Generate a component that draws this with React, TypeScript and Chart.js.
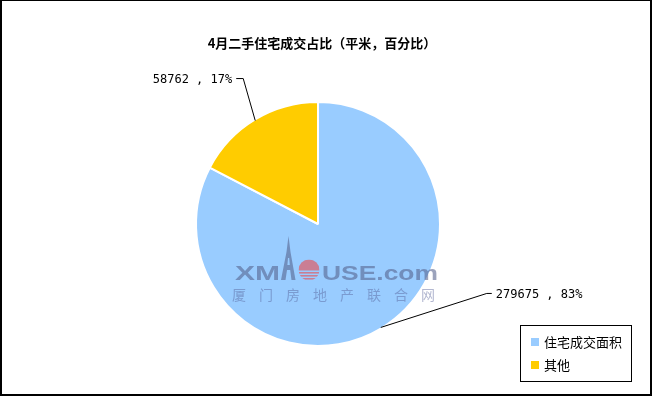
import { useEffect, useRef } from "react";
import { Chart, ArcElement, PieController } from "chart.js";

Chart.register(ArcElement, PieController);

// Chart content
const titleText = "4月二手住宅成交占比（平米，百分比）";
const categories = ["住宅成交面积", "其他"];
const areaValues = [279675, 58762];
const sliceColors = ["#99CCFF", "#FFCC00"];

// Leader-line elbows, relative to where each slice's mid-angle meets the rim
const leaderOffsets = [
  [106, -34],
  [-12, -42],
];

const W = 652;
const H = 396;

function drawStretched(
  ctx: CanvasRenderingContext2D,
  text: string,
  x: number,
  baseline: number,
  width: number
) {
  const natural = ctx.measureText(text).width;
  ctx.save();
  ctx.translate(x, baseline);
  ctx.scale(width / natural, 1);
  ctx.textAlign = "left";
  ctx.textBaseline = "alphabetic";
  ctx.fillText(text, 0, 0);
  ctx.restore();
}

// Site watermark laid over the pie
const watermarkPlugin = {
  id: "watermark",
  afterDatasetsDraw(chart: Chart) {
    const ctx = chart.ctx;
    ctx.save();
    const ink = "rgba(84,96,140,0.58)";
    ctx.fillStyle = ink;
    ctx.font = "bold 20px 'Liberation Sans', Arial, sans-serif";
    drawStretched(ctx, "XM", 235, 280, 45);
    drawStretched(ctx, "USE.com", 322, 280, 116);

    // tower
    ctx.beginPath();
    ctx.moveTo(288.5, 236);
    ctx.lineTo(290.5, 252);
    ctx.lineTo(295.5, 280);
    ctx.lineTo(291.5, 280);
    ctx.lineTo(290.2, 270);
    ctx.lineTo(287.0, 270);
    ctx.lineTo(285.5, 280);
    ctx.lineTo(281, 280);
    ctx.lineTo(286.5, 252);
    ctx.closePath();
    ctx.moveTo(288.0, 258);
    ctx.lineTo(289.2, 258);
    ctx.lineTo(289.8, 265);
    ctx.lineTo(287.4, 265);
    ctx.closePath();
    ctx.fill("evenodd");

    // sun
    const cx = 309;
    const cy = 270;
    const r = 10.5;
    ctx.beginPath();
    ctx.arc(cx, cy, r, 0, Math.PI * 2);
    ctx.clip();
    ctx.fillStyle = "rgba(232,78,80,0.62)";
    ctx.fillRect(cx - r, cy - r, 2 * r, r + 0.5);
    for (let yy = cy + 2; yy < cy + r; yy += 3) {
      ctx.fillRect(cx - r, yy, 2 * r, 1.6);
    }
    ctx.restore();

    ctx.save();
    ctx.fillStyle = "rgba(84,96,150,0.45)";
    ctx.font = "14px 'Noto Sans CJK SC', sans-serif";
    ctx.textAlign = "center";
    ctx.textBaseline = "middle";
    const site = "厦门房地产联合网";
    for (let i = 0; i < site.length; i++) {
      ctx.fillText(site[i], 239 + i * 27, 295);
    }
    ctx.restore();
  },
};

// Title, value labels with leader lines, legend box and frame
const decorPlugin = {
  id: "decor",
  afterDraw(chart: Chart) {
    const ctx = chart.ctx;
    const meta = chart.getDatasetMeta(0);
    const values = chart.data.datasets[0].data as number[];
    const total = values.reduce((a, b) => a + b, 0);
    ctx.save();

    // title
    ctx.fillStyle = "#000";
    ctx.font = "bold 13px 'Noto Sans CJK SC', sans-serif";
    ctx.textAlign = "center";
    ctx.textBaseline = "middle";
    ctx.fillText(titleText, 322, 43);

    // value labels
    ctx.font = "12px 'DejaVu Sans Mono', monospace";
    ctx.strokeStyle = "#000";
    ctx.lineWidth = 1;
    meta.data.forEach((el: any, i: number) => {
      const { x, y, startAngle, endAngle, outerRadius } = el.getProps(
        ["x", "y", "startAngle", "endAngle", "outerRadius"],
        true
      );
      const mid = (startAngle + endAngle) / 2;
      const px = x + Math.cos(mid) * (outerRadius - 1);
      const py = y + Math.sin(mid) * (outerRadius - 1);
      const ex = px + leaderOffsets[i][0];
      const ey = py + leaderOffsets[i][1];
      const right = leaderOffsets[i][0] > 0;
      const hx = ex + (right ? 5 : -7);
      ctx.beginPath();
      ctx.moveTo(px, py);
      ctx.lineTo(ex, ey);
      ctx.lineTo(hx, ey);
      ctx.stroke();
      const pct = Math.round((values[i] / total) * 100);
      ctx.textAlign = right ? "left" : "right";
      ctx.textBaseline = "middle";
      ctx.fillText(`${values[i]} , ${pct}%`, hx + (right ? 4 : -4), ey + 1);
    });

    // legend
    ctx.strokeStyle = "#000";
    ctx.strokeRect(520.5, 325.5, 111, 56);
    ctx.font = "13px 'Noto Sans CJK SC', sans-serif";
    ctx.textAlign = "left";
    ctx.textBaseline = "middle";
    (chart.data.labels as string[]).forEach((label, i) => {
      const rowY = 342 + i * 23;
      ctx.fillStyle = sliceColors[i];
      ctx.fillRect(531, rowY - 4, 8, 8);
      ctx.fillStyle = "#000";
      ctx.fillText(label, 544, rowY);
    });

    // frame
    ctx.fillStyle = "#000";
    ctx.fillRect(0, 0, W, 1);
    ctx.fillRect(0, 0, 2, H);
    ctx.fillRect(W - 2, 0, 2, H);
    ctx.fillRect(0, H - 2, W, 2);
    ctx.restore();
  },
};

export default function App() {
  const canvasRef = useRef<HTMLCanvasElement | null>(null);

  useEffect(() => {
    document.body.style.margin = "0";
    const canvas = canvasRef.current;
    if (!canvas) return;
    const chart = new Chart(canvas, {
      type: "pie",
      data: {
        labels: categories,
        datasets: [
          {
            data: areaValues,
            backgroundColor: sliceColors,
            borderColor: "#FFFFFF",
            borderWidth: 2,
          },
        ],
      },
      options: {
        responsive: false,
        animation: false,
        radius: 122,
        layout: { padding: { left: 0, right: 16, top: 82, bottom: 30 } },
        plugins: {
          legend: { display: false },
          title: { display: false },
          tooltip: { enabled: false },
        },
      } as any,
      plugins: [watermarkPlugin, decorPlugin],
    });
    return () => chart.destroy();
  }, []);

  return (
    <div style={{ width: W, height: H, background: "#fff" }}>
      <canvas ref={canvasRef} width={W} height={H} style={{ display: "block" }} />
    </div>
  );
}
